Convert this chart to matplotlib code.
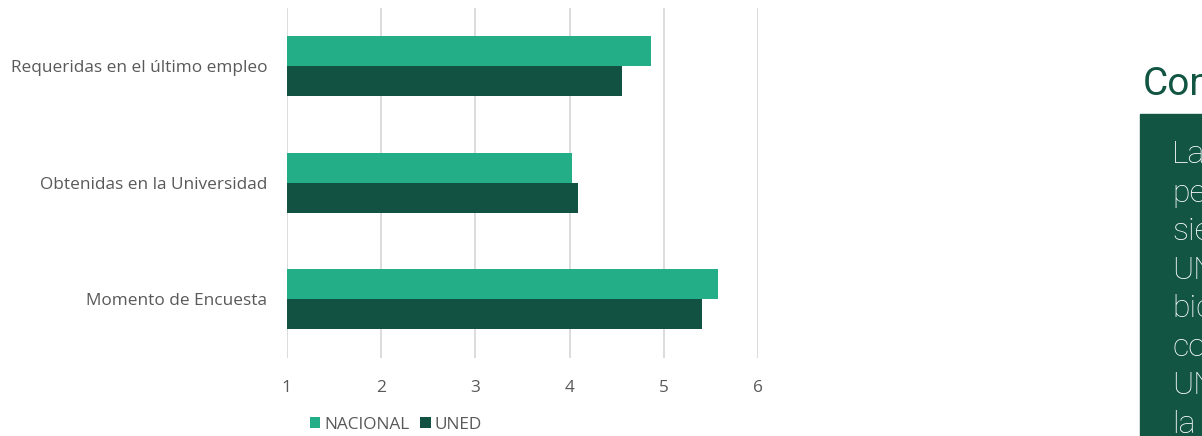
import matplotlib
matplotlib.use("Agg")
import matplotlib.pyplot as plt
from matplotlib import font_manager
from matplotlib.patches import Rectangle
import numpy as np

categories = ["Momento de Encuesta", "Obtenidas en la Universidad", "Requeridas en el último empleo"]
nacional = [5.57, 4.02, 4.86]
uned = [5.40, 4.09, 4.56]
series_names = ["NACIONAL", "UNED"]
x_ticks = [1, 2, 3, 4, 5, 6]
title_text = "Com"
box_lines = ["La", "pe", "sie", "UN", "bic", "co", "UN", "la"]

c_nac = "#23AE88"
c_uned = "#115242"
c_box = "#115542"
c_text = "#595959"

names = {f.name for f in font_manager.fontManager.ttflist}
label_font = "Open Sans" if "Open Sans" in names else "DejaVu Sans"
fsize = 12.4

fig = plt.figure(figsize=(12.02, 4.36), dpi=100)
W, H = 1202, 436
ax = fig.add_axes([286.7 / W, 1 - 357.5 / H, (758.3 - 286.7) / W, (357.5 - 7.7) / H])

y = np.arange(len(categories))
h = 0.257
ax.barh(y + h / 2, np.array(nacional) - 1, h, left=1, color=c_nac, label=series_names[0], zorder=3)
ax.barh(y - h / 2, np.array(uned) - 1, h, left=1, color=c_uned, label=series_names[1], zorder=3)

ax.set_xlim(1, 6)
ax.set_ylim(-0.5, 2.5)
ax.set_xticks(x_ticks)
ax.set_yticks(y)
ax.set_yticklabels(categories)
ax.grid(axis="x", color="#D9D9D9", linewidth=1.3, zorder=0)
for s in ax.spines.values():
    s.set_visible(False)
ax.tick_params(length=0, colors=c_text, labelsize=fsize)
ax.tick_params(axis="x", pad=16)
ax.tick_params(axis="y", pad=14)
for t in ax.get_xticklabels() + ax.get_yticklabels():
    t.set_fontfamily(label_font)

fig.legend(loc="center", bbox_to_anchor=(396 / W, 1 - 425 / H), ncol=2, frameon=False,
           prop={"family": label_font, "size": fsize}, labelcolor=c_text,
           handlelength=0.6, handleheight=0.6, handletextpad=0.25, columnspacing=0.6)

# panel on the right
fig.patches.append(Rectangle((1140 / W, 0), (W - 1140) / W, 1 - 114 / H,
                             transform=fig.transFigure, color=c_box, zorder=0))
fig.text(1143 / W, 1 - 95 / H, title_text, color=c_box, fontsize=28,
         family="Roboto", va="baseline", ha="left")
for i, line in enumerate(box_lines):
    fig.text(1172 / W, 1 - (163 + 38.5 * i) / H, line, color="white", fontsize=23,
             family="Roboto", fontweight="light", va="baseline", ha="left")

fig.savefig("out.png", dpi=100)
